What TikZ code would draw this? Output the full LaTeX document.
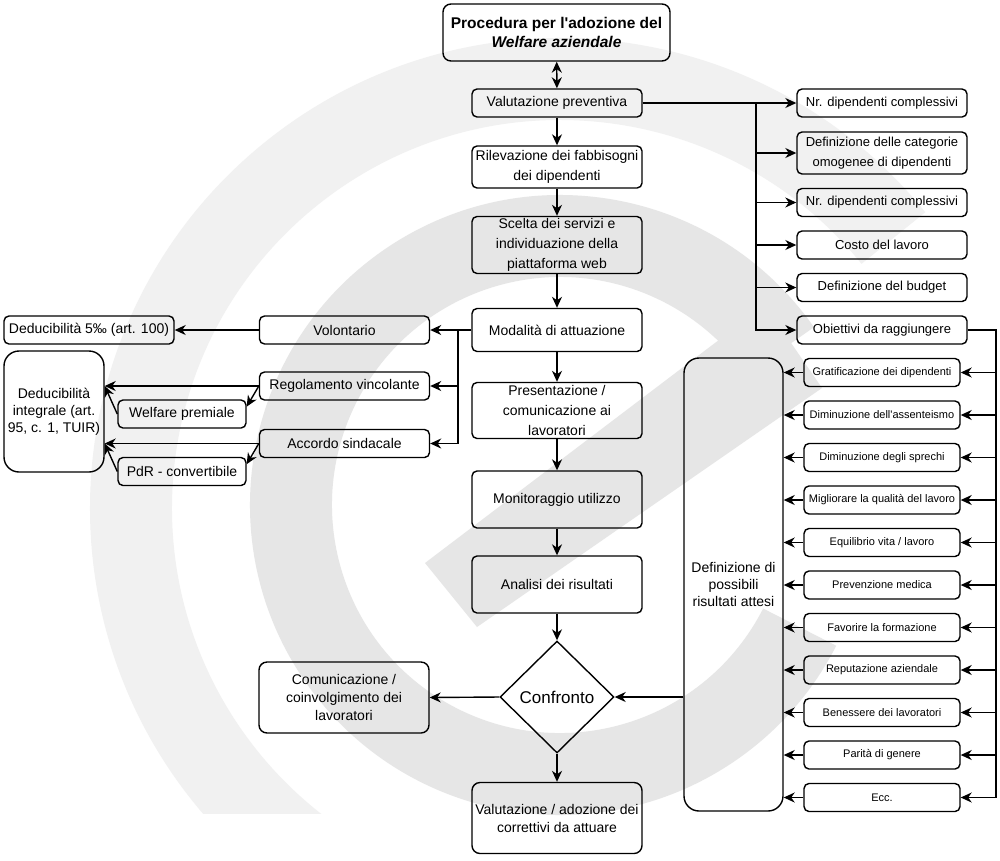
\documentclass[tikz,border=0pt]{standalone}
\usepackage{fontspec}
\setmainfont{Liberation Sans}
\usetikzlibrary{arrows.meta,shapes.geometric,calc}

\definecolor{wmouter}{HTML}{F1F1F1}
\definecolor{wminner}{HTML}{E6E6E6}

\begin{document}
\begin{tikzpicture}[x=1pt,y=-1pt,line width=1.4pt]

  \tikzstyle{flowbox}=[draw,rounded corners=5pt,inner sep=0pt,align=center,
                       minimum width=170pt,minimum height=28pt,
                       font=\fontsize{14}{18}\selectfont]
  \tikzstyle{listbox}=[flowbox,font=\fontsize{13}{20}\selectfont]
  \tikzstyle{goalbox}=[flowbox,minimum width=156pt,
                       font=\fontsize{11}{13}\selectfont]
  \tikzstyle{tallbox}=[flowbox,rounded corners=15pt,font=\fontsize{14}{17}\selectfont]
  \tikzstyle{arr}=[-{Stealth[length=11pt,width=10pt,inset=3.5pt]}]

  \useasboundingbox (0,0) rectangle (1000,860);
  \fill[white] (0,0) rectangle (1000,860);

  % watermark
  \begin{scope}[shift={(560,508)},x=1pt,y=1pt]
    \clip (-600,-305) rectangle (600,600);
    \fill[wmouter] (39:470) arc[start angle=39,end angle=265,radius=470]
      -- (265:388) arc[start angle=265,end angle=39,radius=388] -- cycle;
  \end{scope}
  \begin{scope}[shift={(560,505)},x=1pt,y=1pt]
    \fill[wminner] (35:310) arc[start angle=35,end angle=333,radius=310]
      -- (333:228) arc[start angle=333,end angle=35,radius=228] -- cycle;
  \end{scope}
  \fill[wminner] (425,563) -- (477,627) -- (822,388) -- (765,305) -- cycle;

  % central column
  \node[flowbox,minimum width=227pt,minimum height=57pt,rounded corners=8pt,
        font=\bfseries\fontsize{15.5}{19}\selectfont] (tit) at (556.5,32.5)
        {Procedura per l\textquotesingle adozione del\\\textit{Welfare aziendale}};
  \node[flowbox] (vp) at (557,103) {Valutazione preventiva};
  \node[flowbox,minimum height=42pt,font=\fontsize{14}{20}\selectfont] (ril) at (557,167)
        {Rilevazione dei fabbisogni\\dei dipendenti};
  \node[flowbox,minimum height=57pt,font=\fontsize{14}{20}\selectfont] (sce) at (557,245)
        {Scelta dei servizi e\\individuazione della\\piattaforma web};
  \node[flowbox,minimum height=43pt] (mod) at (557,330) {Modalità di attuazione};
  \node[flowbox,minimum height=56pt,font=\fontsize{14}{20}\selectfont] (pre) at (557,410.5)
        {Presentazione /\\comunicazione ai\\lavoratori};
  \node[flowbox,minimum height=57pt] (mon) at (557,499.5) {Monitoraggio utilizzo};
  \node[flowbox,minimum height=57pt] (ana) at (557,584.5) {Analisi dei risultati};
  \node[draw,diamond,inner sep=0pt,minimum width=114pt,minimum height=112pt,
        font=\fontsize{17}{20}\selectfont] (conf) at (557,697) {Confronto};
  \node[flowbox,minimum height=71pt,rounded corners=8pt] (val) at (557,818)
        {Valutazione / adozione dei\\correttivi da attuare};
  \node[flowbox,minimum height=71pt,rounded corners=8pt] (com) at (344,697.5)
        {Comunicazione /\\coinvolgimento dei\\lavoratori};
  \node[tallbox,minimum width=99pt,minimum height=453pt] (defr) at (733.5,584.5)
        {Definizione di\\possibili\\risultati attesi};

  % upper right list
  \node[listbox] (nr1) at (882,103) {Nr. dipendenti complessivi};
  \node[listbox,minimum height=42pt] (cat) at (882,153)
        {Definizione delle categorie\\omogenee di dipendenti};
  \node[listbox] (nr2) at (882,202.5) {Nr. dipendenti complessivi};
  \node[listbox] (cos) at (882,245) {Costo del lavoro};
  \node[listbox] (bud) at (882,287.5) {Definizione del budget};
  \node[listbox] (obi) at (882,330) {Obiettivi da raggiungere};

  % expected results
  \foreach \txt [count=\i] in {Gratificazione dei dipendenti,
      Diminuzione dell\textquotesingle assenteismo, Diminuzione degli sprechi,
      Migliorare la qualità del lavoro, Equilibrio vita / lavoro,
      Prevenzione medica, Favorire la formazione, Reputazione aziendale,
      Benessere dei lavoratori, Parità di genere, Ecc.}
    \node[goalbox] (g\i) at (882,330+42.5*\i) {\txt};

  % left side
  \node[flowbox] (vol) at (344.5,330) {Volontario};
  \node[flowbox] (reg) at (344.5,386) {Regolamento vincolante};
  \node[flowbox] (acc) at (344.5,443.5) {Accordo sindacale};
  \node[flowbox,minimum width=128pt] (wp) at (182,414) {Welfare premiale};
  \node[flowbox,minimum width=128pt] (pdr) at (182,471.5) {PdR - convertibile};
  \node[flowbox] (d5) at (89,330) {Deducibilità 5‰ (art. 100)};
  \node[tallbox,minimum width=100pt,minimum height=121pt] (dint) at (54,411.5)
        {Deducibilità\\integrale (art.\\95, c. 1, TUIR)};

  % connectors
  \draw[{Stealth[length=11pt,width=10pt,inset=3.5pt]}-{Stealth[length=11pt,width=10pt,inset=3.5pt]}]
        (tit) -- (vp);
  \draw[arr] (vp) -- (ril);
  \draw[arr] (ril) -- (sce);
  \draw[arr] (sce) -- (mod);
  \draw[arr] (mod) -- (pre);
  \draw[arr] (pre) -- (mon);
  \draw[arr] (mon) -- (ana);
  \draw[arr] (ana) -- (conf);
  \draw[arr] (conf) -- (val);
  \draw[arr] (conf.west) -- (com.east);
  \draw[arr] (defr.west |- conf.east) -- (conf.east);

  \coordinate (tr) at (756,103);
  \draw[arr] (vp.east) -- (nr1.west);
  \foreach \n in {cat,nr2,cos,bud,obi}
    \draw[arr] (tr) |- (\n.west);

  \coordinate (rb) at (996,330);
  \draw (obi.east) -- (rb) -- (rb |- g11.east);
  \foreach \i in {1,...,11} {
    \draw[arr] (rb |- g\i.east) -- (g\i.east);
    \draw[arr] (g\i.west) -- (defr.east |- g\i.west);
  }

  \coordinate (lj) at (458,330);
  \draw[arr] (mod.west) -- (vol.east);
  \draw[arr] (lj) |- (reg.east);
  \draw[arr] (lj) |- (acc.east);
  \draw[arr] (vol.west) -- (d5.east);
  \draw[arr] (reg.west) -- (dint.east |- reg.west);
  \draw[arr] (reg.west) -- ($(wp.north east)!0.25!(wp.south east)$);
  \draw[arr] (wp.west) -- (dint.east |- reg.west);
  \draw[arr] (acc.west) -- (dint.east |- acc.west);
  \draw[arr] (acc.west) -- ($(pdr.north east)!0.25!(pdr.south east)$);
  \draw[arr] (pdr.west) -- (dint.east |- acc.west);

\end{tikzpicture}
\end{document}
